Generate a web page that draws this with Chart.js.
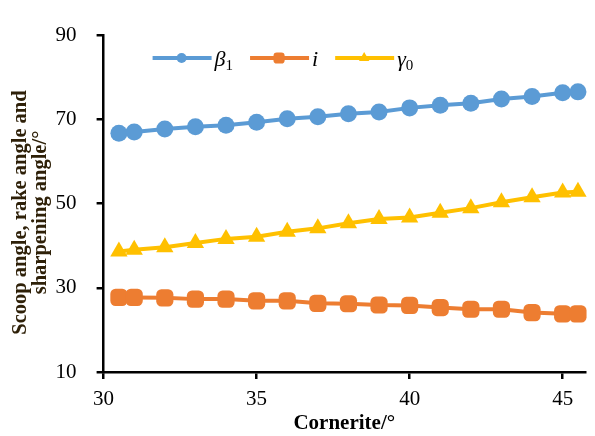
<!DOCTYPE html>
<html>
<head>
<meta charset="utf-8">
<script src="https://cdn.jsdelivr.net/npm/chart.js@4.4.1/dist/chart.umd.min.js"></script>
<style>
  html, body { margin: 0; padding: 0; background: #fff; }
  #wrap { width: 595px; height: 436px; }
</style>
</head>
<body>
<div id="wrap"><canvas id="myChart" width="595" height="436"></canvas></div>
<script>
'use strict';

// values
let cornerite = [30.5, 31, 32, 33, 34, 35, 36, 37, 38, 39, 40, 41, 42, 43, 44, 45, 45.5];
let beta1 = [66.7, 67.0, 67.7, 68.2, 68.6, 69.3, 70.1, 70.6, 71.3, 71.7, 72.7, 73.3, 73.8, 74.8, 75.4, 76.3, 76.5];
let rakeI = [27.7, 27.7, 27.6, 27.3, 27.3, 26.9, 26.9, 26.3, 26.2, 25.9, 25.8, 25.3, 24.9, 24.9, 24.1, 23.8, 23.8];
let gamma0 = [38.6, 39.0, 39.6, 40.6, 41.6, 42.1, 43.3, 44.1, 45.3, 46.3, 46.7, 47.8, 48.9, 50.3, 51.5, 52.6, 52.8];

let seriesNames = ['β', 'i', 'γ'];
let seriesSubs = ['1', '', '0'];
let yTicks = [10, 30, 50, 70, 90];
let xTicks = [30, 35, 40, 45];
let yTitle = ['Scoop angle, rake angle and', 'sharpening angle/°'];

const serif = "'Liberation Serif', 'Times New Roman', serif";

function toPoints(ys){
  let pts = [];
  for(let i = 0; i < cornerite.length; i++){
    pts.push({x: cornerite[i], y: ys[i]});
  }
  return pts;
}

// legend drawn as line + marker + italic symbol with subscript
const lineLegend = {
  id: 'lineLegend',
  afterDraw(chart){
    let ctx = chart.ctx;
    let area = chart.chartArea;
    let x = area.left + 49;
    let y = area.top + 23;
    ctx.save();
    chart.data.datasets.forEach(function(ds, i){
      ctx.strokeStyle = ds.borderColor;
      ctx.lineWidth = 4;
      ctx.beginPath();
      ctx.moveTo(x, y);
      ctx.lineTo(x + 59, y);
      ctx.stroke();
      ctx.fillStyle = ds.borderColor;
      Chart.helpers.drawPoint(ctx, {pointStyle: ds.pointStyle, radius: ds.legendRadius, rotation: 0, borderWidth: 0}, x + 29, y);
      x += 62;
      ctx.fillStyle = '#000';
      ctx.textBaseline = 'alphabetic';
      ctx.font = 'italic 22px ' + serif;
      ctx.fillText(seriesNames[i], x, y + 8);
      x += ctx.measureText(seriesNames[i]).width;
      if(seriesSubs[i]){
        ctx.font = '15px ' + serif;
        ctx.fillText(seriesSubs[i], x, y + 12);
        x += ctx.measureText(seriesSubs[i]).width;
      }
      x += 17;
    });
    ctx.restore();
  }
};

// two-line rotated y title, sitting a little below the plot centre
const yTitlePlugin = {
  id: 'yTitlePlugin',
  afterDraw(chart){
    let ctx = chart.ctx;
    let area = chart.chartArea;
    let cy = (area.top + area.bottom) / 2 + 9;
    ctx.save();
    ctx.fillStyle = '#2e2008';
    ctx.font = 'bold 20.5px ' + serif;
    ctx.textAlign = 'center';
    ctx.textBaseline = 'middle';
    for(let i = 0; i < yTitle.length; i++){
      ctx.save();
      ctx.translate(21 + i * 19.5, cy);
      ctx.rotate(-Math.PI / 2);
      ctx.fillText(yTitle[i], 0, 0);
      ctx.restore();
    }
    ctx.restore();
  }
};

const ctx = document.getElementById('myChart');

new Chart(ctx, {
  type: 'line',
  data: {
    datasets: [
      {
        label: 'β1',
        data: toPoints(beta1),
        borderColor: '#5B9BD5',
        backgroundColor: '#5B9BD5',
        borderWidth: 4,
        pointStyle: 'circle',
        pointRadius: 8.5,
        legendRadius: 5,
        pointBorderWidth: 0
      },
      {
        label: 'i',
        data: toPoints(rakeI),
        borderColor: '#ED7D31',
        backgroundColor: '#ED7D31',
        borderWidth: 4,
        pointStyle: 'rectRounded',
        pointRadius: 10,
        legendRadius: 6.5,
        pointBorderWidth: 0
      },
      {
        label: 'γ0',
        data: toPoints(gamma0),
        borderColor: '#FFC000',
        backgroundColor: '#FFC000',
        borderWidth: 4,
        pointStyle: 'triangle',
        pointRadius: 10,
        legendRadius: 6,
        pointBorderWidth: 0
      }
    ]
  },
  options: {
    responsive: false,
    animation: false,
    clip: false,
    layout: { padding: { top: 35, right: 0, left: 0, bottom: 0 } },
    plugins: {
      legend: { display: false },
      tooltip: { enabled: false }
    },
    scales: {
      x: {
        type: 'linear',
        min: 30,
        max: 45.73,
        afterFit: function(scale){ scale.height = 64; },
        afterBuildTicks: function(scale){ scale.ticks = xTicks.map(v => ({value: v})); },
        ticks: { color: '#000', font: { family: serif, size: 21 }, padding: 8, maxRotation: 0 },
        grid: { drawOnChartArea: false, drawTicks: true, tickLength: 7, color: '#000', lineWidth: 2.5 },
        border: { color: '#000', width: 2.5 },
        title: {
          display: true,
          text: 'Cornerite/°',
          color: '#000',
          font: { family: serif, size: 21, weight: 'bold' },
          padding: { top: 0, bottom: 0 }
        }
      },
      y: {
        min: 10,
        max: 90,
        afterFit: function(scale){ scale.width = 103.6; },
        afterBuildTicks: function(scale){ scale.ticks = yTicks.map(v => ({value: v})); },
        ticks: { color: '#000', font: { family: serif, size: 21 }, padding: 20 },
        grid: { drawOnChartArea: false, drawTicks: true, tickLength: 7, color: '#000', lineWidth: 2.5 },
        border: { color: '#000', width: 2.5 },
        title: { display: false }
      }
    }
  },
  plugins: [lineLegend, yTitlePlugin]
});
</script>
</body>
</html>
